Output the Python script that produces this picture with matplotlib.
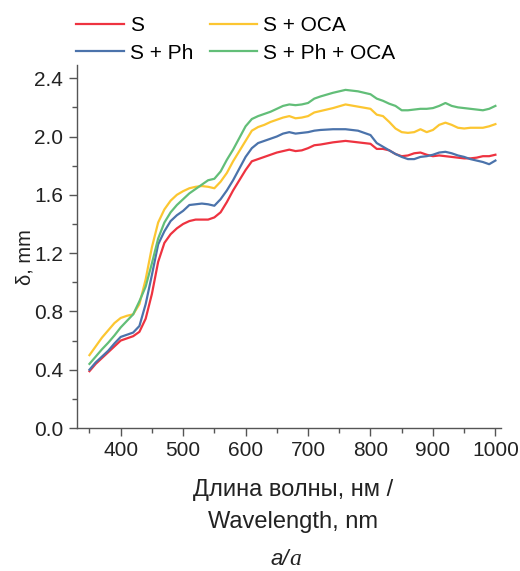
import matplotlib
matplotlib.use("Agg")
import matplotlib.pyplot as plt
from matplotlib.ticker import MultipleLocator, FormatStrFormatter

# Wavelength grid (nm)
wl = [350, 360, 370, 380, 390, 400, 410, 420, 430, 440, 450, 460, 470, 480, 490,
      500, 510, 520, 530, 540, 550, 560, 570, 580, 590, 600, 610, 620, 630, 640,
      650, 660, 670, 680, 690, 700, 710, 720, 740, 760, 780, 800, 810, 820, 830,
      840, 850, 860, 870, 880, 890, 900, 910, 920, 930, 940, 950, 960, 970, 980,
      990, 1000]

# Series values, delta in mm
s = [0.39, 0.44, 0.48, 0.52, 0.56, 0.60, 0.615, 0.63, 0.66, 0.75, 0.92, 1.14, 1.27, 1.33, 1.37,
     1.40, 1.42, 1.43, 1.43, 1.43, 1.445, 1.48, 1.55, 1.63, 1.70, 1.77, 1.83, 1.845, 1.86, 1.875,
     1.89, 1.90, 1.91, 1.90, 1.905, 1.92, 1.94, 1.945, 1.96, 1.97, 1.96, 1.95, 1.915, 1.915, 1.905,
     1.88, 1.865, 1.87, 1.885, 1.89, 1.875, 1.865, 1.87, 1.865, 1.86, 1.855, 1.85, 1.85, 1.855, 1.865,
     1.865, 1.875]

s_ph = [0.40, 0.45, 0.49, 0.53, 0.58, 0.625, 0.64, 0.655, 0.70, 0.85, 1.05, 1.26, 1.35, 1.42, 1.46,
        1.49, 1.53, 1.535, 1.54, 1.535, 1.525, 1.57, 1.63, 1.70, 1.78, 1.86, 1.92, 1.955, 1.97, 1.985,
        2.00, 2.02, 2.03, 2.02, 2.025, 2.03, 2.04, 2.045, 2.05, 2.05, 2.04, 2.01, 1.955, 1.93, 1.905,
        1.88, 1.86, 1.845, 1.845, 1.86, 1.865, 1.875, 1.89, 1.895, 1.885, 1.87, 1.86, 1.845, 1.835, 1.825,
        1.81, 1.835]

s_oca = [0.50, 0.56, 0.62, 0.67, 0.72, 0.755, 0.77, 0.78, 0.85, 1.02, 1.24, 1.41, 1.50, 1.56, 1.60,
         1.625, 1.645, 1.655, 1.66, 1.655, 1.645, 1.69, 1.75, 1.83, 1.90, 1.97, 2.04, 2.065, 2.08, 2.10,
         2.115, 2.13, 2.14, 2.125, 2.13, 2.14, 2.165, 2.175, 2.195, 2.22, 2.205, 2.19, 2.15, 2.14, 2.10,
         2.055, 2.03, 2.025, 2.03, 2.05, 2.03, 2.045, 2.08, 2.095, 2.08, 2.06, 2.055, 2.06, 2.06, 2.06,
         2.07, 2.085]

s_ph_oca = [0.44, 0.49, 0.54, 0.585, 0.635, 0.69, 0.735, 0.78, 0.87, 0.97, 1.13, 1.30, 1.41, 1.48, 1.53,
            1.57, 1.61, 1.64, 1.67, 1.70, 1.71, 1.76, 1.84, 1.91, 1.99, 2.07, 2.12, 2.14, 2.155, 2.17,
            2.19, 2.21, 2.22, 2.215, 2.22, 2.23, 2.26, 2.275, 2.30, 2.32, 2.31, 2.29, 2.26, 2.245, 2.225,
            2.21, 2.18, 2.18, 2.185, 2.19, 2.19, 2.195, 2.21, 2.23, 2.21, 2.20, 2.195, 2.19, 2.185, 2.18,
            2.19, 2.21]

labels = ["S", "S + Ph", "S + OCA", "S + Ph + OCA"]
colors = ["#ee3340", "#4b73ab", "#fcc631", "#62be78"]
xticks = [400, 500, 600, 700, 800, 900, 1000]

plt.rcParams['font.family'] = ['Liberation Sans', 'DejaVu Sans']

fig = plt.figure(figsize=(5.2, 5.71), dpi=100)
ax = fig.add_axes([0.148, 0.2504, 0.8155, 0.6356])

lines = []
for y, lab, c in zip([s, s_ph, s_oca, s_ph_oca], labels, colors):
    ln, = ax.plot(wl, y, color=c, lw=1.6, label=lab)
    lines.append(ln)

ax.set_xlim(330, 1009)
ax.set_ylim(0, 2.49)
ax.set_xticks(xticks)
ax.xaxis.set_minor_locator(MultipleLocator(50))
ax.yaxis.set_major_locator(MultipleLocator(0.4))
ax.yaxis.set_minor_locator(MultipleLocator(0.2))
ax.yaxis.set_major_formatter(FormatStrFormatter('%.1f'))

for sp in ['top', 'right']:
    ax.spines[sp].set_visible(False)
for sp in ['left', 'bottom']:
    ax.spines[sp].set_color('#555555')
    ax.spines[sp].set_linewidth(1.0)

ax.tick_params(which='major', direction='out', length=6, width=1, color='#555555',
               labelsize=15, labelcolor='#222222')
ax.tick_params(axis='y', which='major', pad=4)
ax.tick_params(axis='x', which='major', pad=3.5)
ax.tick_params(which='minor', direction='out', length=3.5, width=1, color='#555555')

ax.set_ylabel("δ, mm", fontsize=14.5, color='#222222')
ax.yaxis.set_label_coords(-0.1, 0.47)
ax.set_xlabel("Длина волны, нм /\nWavelength, nm", fontsize=17, color='#222222',
              linespacing=1.6)
ax.xaxis.set_label_coords(0.51, -0.14)

# legend in two columns above the plot
fig.legend(lines, labels, ncol=2, loc='upper left', bbox_to_anchor=(0.111, 1.004),
           frameon=False, fontsize=15, handlelength=2.26, handletextpad=0.29,
           columnspacing=0.82, labelspacing=0.39)

# caption "a/а"
fig.text(0.556, 0.01, "a/", ha='right', va='baseline', fontsize=16, style='italic',
         color='#222222')
fig.text(0.556, 0.01, "а", ha='left', va='baseline', fontsize=17, style='italic',
         family='Liberation Serif', color='#222222')

fig.savefig("out.png", dpi=100)
